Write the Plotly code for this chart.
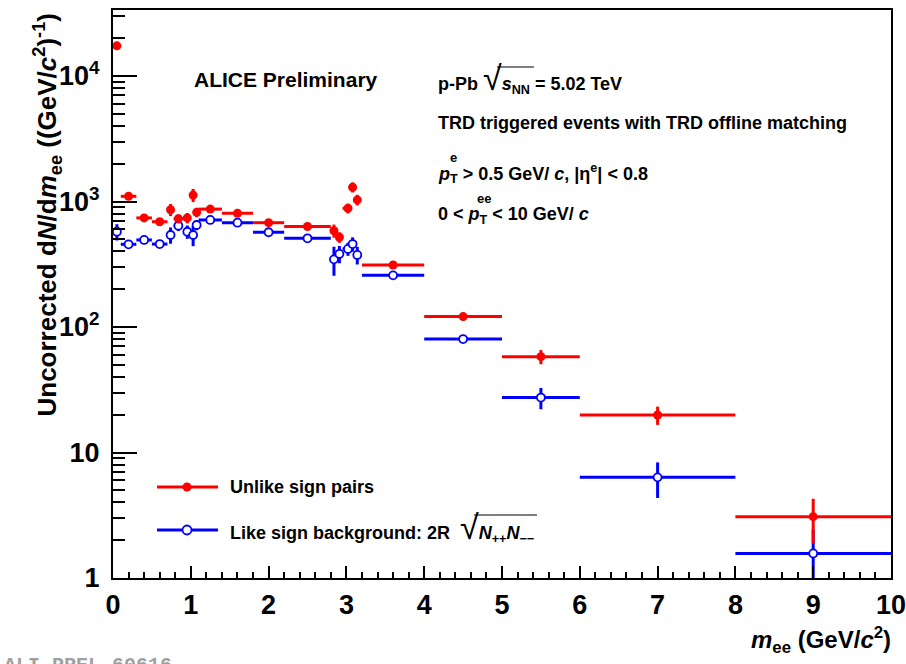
import plotly.graph_objects as go

# ---- Unlike-sign pairs (e+e-) ----
us_mass = [0.05, 0.2, 0.4, 0.6, 0.74, 0.84, 0.955, 1.03, 1.075, 1.25, 1.6, 2.0, 2.5,
           2.84, 2.91, 3.02, 3.08, 3.14, 3.6, 4.5, 5.5, 7.0, 9.0]
us_bin_lo = [0.0, 0.1, 0.3, 0.5, 0.7, 0.78, 0.9, 1.0, 1.05, 1.1, 1.4, 1.8, 2.2,
             2.8, 2.87, 2.95, 3.05, 3.11, 3.2, 4.0, 5.0, 6.0, 8.0]
us_bin_hi = [0.1, 0.3, 0.5, 0.7, 0.78, 0.9, 1.0, 1.05, 1.1, 1.4, 1.8, 2.2, 2.8,
             2.87, 2.95, 3.05, 3.11, 3.17, 4.0, 5.0, 6.0, 8.0, 10.0]
us_yield = [17400, 1100, 740, 690, 860, 730, 740, 1125, 820, 870, 805, 678, 632,
            585, 519, 883, 1300, 1030, 312, 121, 58, 19.9, 3.08]
us_err = [300, 40, 30, 30, 95, 60, 70, 135, 70, 40, 30, 25, 25,
          70, 50, 80, 120, 100, 12, 5, 7.5, 3.3, 1.2]

# ---- Like-sign background 2R sqrt(N++ N--) ----
ls_mass = us_mass
ls_bin_lo = us_bin_lo
ls_bin_hi = us_bin_hi
ls_yield = [574, 456, 494, 458, 541, 641, 574, 541, 650, 713, 678, 569, 509,
            346, 382, 419, 458, 375, 258, 80.2, 27.4, 6.34, 1.57]
ls_err = [85, 25, 25, 25, 80, 60, 70, 100, 60, 30, 25, 20, 20,
          90, 60, 50, 60, 60, 10, 4, 5.3, 2.0, 0.87]

# ---- axis ticks ----
x_ticks = list(range(0, 11))
y_ticks = [1, 10, 100, 1000, 10000]
y_ticklabels = ["1", "10", "10<sup>2</sup>", "10<sup>3</sup>", "10<sup>4</sup>"]
y_minor = [m * 10 ** k for k in range(0, 5) for m in range(2, 10) if m * 10 ** k < 34000]

RED = "#ff0000"
BLUE = "#0000ff"
FONT = "Liberation Sans, Arial, sans-serif"


def series(mass, lo, hi, val, err, color, filled):
    return go.Scatter(
        x=mass, y=val, mode="markers", showlegend=False,
        error_x=dict(type="data", symmetric=False,
                     array=[h - m for h, m in zip(hi, mass)],
                     arrayminus=[m - l for m, l in zip(mass, lo)],
                     color=color, thickness=3, width=0),
        error_y=dict(type="data", array=err, color=color, thickness=3, width=0),
        marker=dict(symbol="circle", size=9 if filled else 8,
                    color=color if filled else "white",
                    line=dict(color=color, width=0 if filled else 1.8)),
        cliponaxis=True,
    )


fig = go.Figure()
fig.add_trace(series(ls_mass, ls_bin_lo, ls_bin_hi, ls_yield, ls_err, BLUE, False))
fig.add_trace(series(us_mass, us_bin_lo, us_bin_hi, us_yield, us_err, RED, True))

fig.update_layout(
    width=906, height=664,
    margin=dict(l=113, r=15, t=10, b=86, autoexpand=False),
    paper_bgcolor="white", plot_bgcolor="white",
    font=dict(family=FONT, color="black", size=16),
)

fig.update_xaxes(
    range=[0, 10], tickvals=x_ticks, ticktext=[str(v) for v in x_ticks],
    showgrid=False, zeroline=False, automargin=False, ticklabeloverflow="allow",
    showline=True, linecolor="black", linewidth=2, mirror=True,
    ticks="inside", ticklen=12, tickwidth=1.5, tickcolor="black",
    minor=dict(dtick=0.2, ticks="inside", ticklen=6, tickwidth=1.5, tickcolor="black", showgrid=False),
    tickfont=dict(family=FONT, size=27, weight="bold"),
    ticklabelstandoff=2,
)
fig.update_yaxes(
    type="log", range=[0, 4.526], tickvals=y_ticks, ticktext=y_ticklabels,
    showgrid=False, zeroline=False, automargin=False, ticklabeloverflow="allow",
    showline=True, linecolor="black", linewidth=2, mirror=True,
    ticks="inside", ticklen=24, tickwidth=1.5, tickcolor="black",
    minor=dict(tickvals=y_minor, ticks="inside", ticklen=12, tickwidth=1.5, tickcolor="black", showgrid=False),
    tickfont=dict(family=FONT, size=27, weight="bold"),
    ticklabelstandoff=6,
)


def px(x):
    return (x - 113) / 778.0


def py(y):
    return (578 - y) / 568.0


ann = []


def text(s, x, y, size=18, xanchor="left", yanchor="middle", angle=0, color="black", family=FONT):
    ann.append(dict(text=s, x=x, y=y, xref="paper", yref="paper", showarrow=False,
                    xanchor=xanchor, yanchor=yanchor, textangle=angle,
                    font=dict(family=family, size=size, color=color, weight="bold")))


ROOT_SIGN = "<span style='font-size:34px;font-weight:normal'>√</span>"

# axis titles
text("Uncorrected d<i>N</i>/d<i>m</i><sub>ee</sub> ((GeV/<i>c</i><sup>2</sup>)<sup>-1</sup>)",
     px(47), py(12), size=26, xanchor="center", yanchor="top", angle=-90)
text("<i>m</i><sub>ee</sub> (GeV/<i>c</i><sup>2</sup>)", px(893), py(640), size=24,
     xanchor="right", yanchor="middle")

# labels inside the frame
text("ALICE Preliminary", px(192), py(80), size=21)
text("p-Pb " + ROOT_SIGN + "<i>s</i><sub>NN</sub> = 5.02 TeV", px(436), py(78))
text("TRD triggered events with TRD offline matching", px(436), py(123))
# p_T with the superscript stacked above the subscript
text("<i>p</i><sub>T</sub> > 0.5 GeV/ <i>c</i>, |η<sup>e</sup>| < 0.8", px(436), py(174))
text("e", px(453), py(157), size=13, xanchor="center")
text("0 < <i>p</i><sub>T</sub> < 10 GeV/ <i>c</i>", px(436), py(215))
text("ee", px(484), py(198), size=13, xanchor="center")

# legend entries
text("Unlike sign pairs", px(228), py(487))
text("Like sign background: 2R  " + ROOT_SIGN + "<i>N</i><sub>++</sub><i>N</i><sub>−−</sub>",
     px(228), py(527))

# preliminary figure id
text("ALI-PREL-60616", px(2), py(652), size=20, yanchor="top", color="#a0a0a0",
     family="Liberation Mono, Courier New, monospace")

shapes = []
for yy, col, filled in [(487, RED, True), (530, BLUE, False)]:
    shapes.append(dict(type="line", xref="paper", yref="paper", x0=px(157), x1=px(218),
                       y0=py(yy), y1=py(yy), line=dict(color=col, width=3)))
    shapes.append(dict(type="circle", xref="paper", yref="paper", xsizemode="pixel", ysizemode="pixel",
                       xanchor=px(187), yanchor=py(yy), x0=-4.5, x1=4.5, y0=-4.5, y1=4.5,
                       fillcolor=col if filled else "white", line=dict(color=col, width=0 if filled else 1.8)))

# vinculum over the radicands
for xa, xb, yy in [(497, 534, 67), (474, 537, 515)]:
    shapes.append(dict(type="line", xref="paper", yref="paper", x0=px(xa), x1=px(xb),
                       y0=py(yy), y1=py(yy), line=dict(color="black", width=1.2)))

fig.update_layout(annotations=ann, shapes=shapes)
fig.write_html("out.html")
